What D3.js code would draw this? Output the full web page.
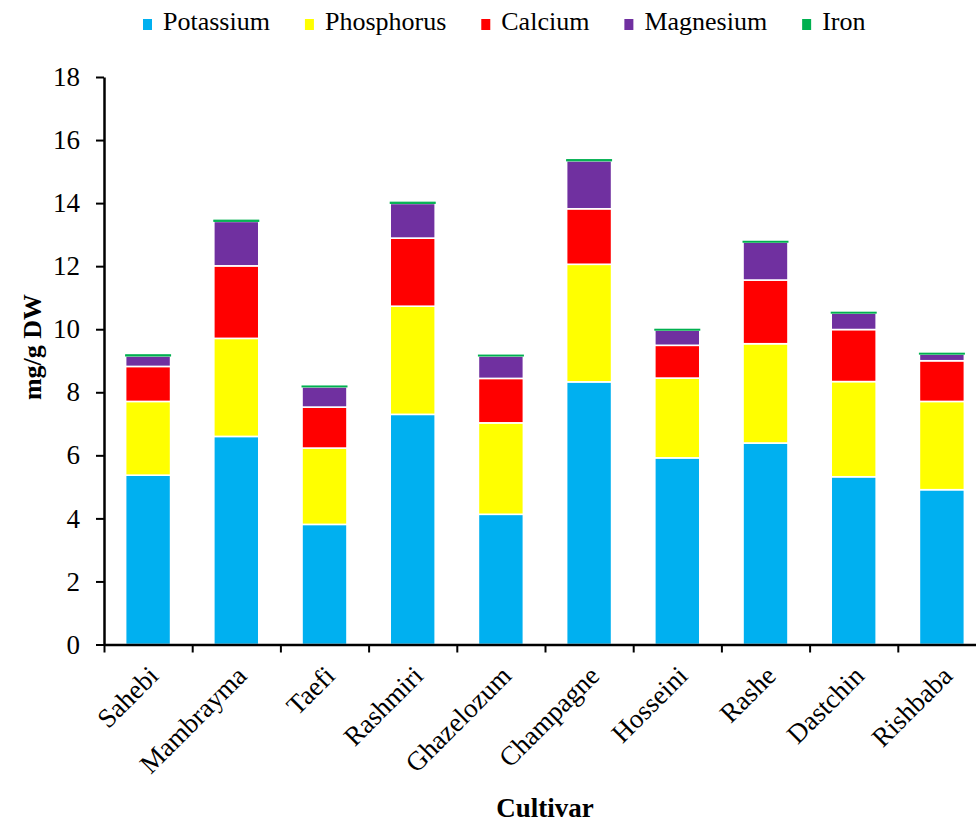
<!DOCTYPE html>
<html>
<head>
<meta charset="utf-8">
<script src="https://cdn.jsdelivr.net/npm/d3@7"></script>
<style>
  body { margin: 0; background: #fff; }
  svg text { font-family: "Liberation Serif", "Times New Roman", serif !important; fill: #000; }
</style>
</head>
<body>
<div id="chart"></div>
<script>
const cultivars = ["Sahebi", "Mambrayma", "Taefi", "Rashmiri", "Ghazelozum", "Champagne", "Hosseini", "Rashe", "Dastchin", "Rishbaba"];
const potassium = [5.37, 6.60, 3.81, 7.30, 4.13, 8.33, 5.92, 6.39, 5.32, 4.91];
const phosphorus = [2.34, 3.11, 2.42, 3.43, 2.90, 3.73, 2.53, 3.15, 3.02, 2.80];
const calcium = [1.11, 2.30, 1.30, 2.16, 1.41, 1.76, 1.04, 2.02, 1.65, 1.29];
const magnesium = [0.33, 1.41, 0.64, 1.10, 0.71, 1.52, 0.48, 1.20, 0.52, 0.21];
const iron = [0.04, 0.04, 0.03, 0.04, 0.03, 0.04, 0.03, 0.03, 0.03, 0.03];
const seriesNames = ["Potassium", "Phosphorus", "Calcium", "Magnesium", "Iron"];
const seriesColors = ["#00B0F0", "#FFFF00", "#FF0000", "#7030A0", "#00B050"];
const yTicks = [0, 2, 4, 6, 8, 10, 12, 14, 16, 18];

const W = 976, H = 822;
const margin = {top: 77, left: 104, bottom: 822 - 644.5};
const plotRight = 104 + 882;
const serif = "'Liberation Serif', 'Times New Roman', serif";

const rows = cultivars.map((c, i) => ({
    cultivar: c,
    Potassium: potassium[i],
    Phosphorus: phosphorus[i],
    Calcium: calcium[i],
    Magnesium: magnesium[i],
    Iron: iron[i]
}));

const stacked = d3.stack().keys(seriesNames)(rows);

const svg = d3.select("#chart").append("svg")
    .attr("width", W)
    .attr("height", H)
    .attr("font-family", serif);

const x = d3.scaleBand()
    .domain(cultivars)
    .range([margin.left, plotRight])
    .padding(0);

const y = d3.scaleLinear()
    .domain([0, 18])
    .range([H - margin.bottom, margin.top]);

const color = d3.scaleOrdinal().domain(seriesNames).range(seriesColors);
const barW = x.bandwidth() * 0.51;

// bars
svg.append("g")
    .selectAll("g")
    .data(stacked)
    .join("g")
        .attr("fill", d => color(d.key))
        .attr("stroke", d => d.key === "Iron" ? color(d.key) : "#fff")
        .attr("stroke-width", d => d.key === "Iron" ? 1 : 1.6)
    .selectAll("rect")
    .data(d => d)
    .join("rect")
        .attr("x", d => x(d.data.cultivar) + (x.bandwidth() - barW) / 2)
        .attr("y", d => y(d[1]))
        .attr("width", barW)
        .attr("height", d => y(d[0]) - y(d[1]));

// y axis
const yAxis = svg.append("g")
    .attr("transform", `translate(${margin.left},0)`)
    .call(d3.axisLeft(y).tickValues(yTicks).tickSize(8).tickSizeOuter(0).tickPadding(16));
yAxis.attr("font-family", serif);
yAxis.select(".domain").attr("stroke-width", 2.5);
yAxis.selectAll(".tick line").attr("stroke-width", 2);
yAxis.selectAll(".tick text")
    .attr("font-family", serif)
    .style("font-size", "27px");

// x axis: ticks at category boundaries
const xb = d3.scaleLinear().domain([0, cultivars.length]).range([margin.left, plotRight]);
const xAxis = svg.append("g")
    .attr("transform", `translate(0,${y(0)})`)
    .call(d3.axisBottom(xb).ticks(cultivars.length).tickFormat("").tickSize(8).tickSizeOuter(0));
xAxis.select(".domain").attr("stroke-width", 2.5);
xAxis.selectAll(".tick line").attr("stroke-width", 2);

// category labels
svg.append("g")
    .selectAll("text")
    .data(cultivars)
    .join("text")
        .attr("transform", d => `translate(${x(d) + x.bandwidth() / 2 + 12},${y(0) + 33}) rotate(-45)`)
        .attr("text-anchor", "end")
        .attr("font-family", serif)
        .style("font-size", "27px")
        .text(d => d);

// axis titles
svg.append("text")
    .attr("transform", "translate(41,347) rotate(-90)")
    .attr("text-anchor", "middle")
    .attr("font-family", serif)
    .style("font-size", "26px")
    .style("font-weight", "bold")
    .text("mg/g DW");

svg.append("text")
    .attr("x", (margin.left + plotRight) / 2)
    .attr("y", 817)
    .attr("text-anchor", "middle")
    .attr("font-family", serif)
    .style("font-size", "27px")
    .style("font-weight", "bold")
    .text("Cultivar");

// legend
const legend = svg.append("g");
let lx = 143;
seriesNames.forEach(name => {
    legend.append("rect")
        .attr("x", lx)
        .attr("y", 19)
        .attr("width", 9)
        .attr("height", 11)
        .attr("fill", color(name));
    const t = legend.append("text")
        .attr("x", lx + 20)
        .attr("y", 30)
        .attr("font-family", serif)
        .style("font-size", "26px")
        .text(name);
    lx = lx + 20 + t.node().getComputedTextLength() + 35;
});
</script>
</body>
</html>
